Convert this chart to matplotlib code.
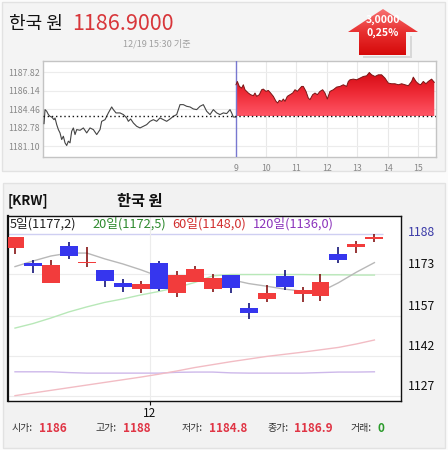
import numpy as np
import matplotlib
matplotlib.use('Agg')
from matplotlib import pyplot as plt
from matplotlib.patches import Rectangle, Polygon
from matplotlib.colors import LinearSegmentedColormap
import matplotlib.transforms as mtransforms

plt.rcParams['font.family'] = ['Noto Sans CJK KR', 'DejaVu Sans']

# ---- intraday (top chart) ----
prev_close = 1183.82
prev_t = [2.694, 2.727, 2.782, 2.837, 2.891, 2.946, 3.023, 3.056, 3.111, 3.166, 3.220, 3.275, 3.330,
          3.385, 3.440, 3.494, 3.549, 3.604, 3.659, 3.714, 3.769, 3.878, 3.988, 4.098, 4.207, 4.317,
          4.427, 4.536, 4.591, 4.701, 4.810, 4.920, 4.975, 5.062, 5.194, 5.304, 5.413, 5.468, 5.545,
          5.633, 5.742, 5.852, 5.962, 6.071, 6.181, 6.291, 6.400, 6.510, 6.620, 6.729, 6.839, 6.948,
          7.058, 7.168, 7.277, 7.387, 7.497, 7.606, 7.716, 7.826, 7.935, 8.045, 8.155, 8.264, 8.374,
          8.484, 8.593, 8.703, 8.813, 8.867, 8.922, 8.999]
prev_v = [1183.16, 1184.43, 1184.28, 1183.98, 1183.82, 1183.76, 1183.52, 1183.67, 1183.07, 1182.62,
          1182.32, 1181.72, 1182.02, 1181.42, 1181.18, 1181.57, 1181.42, 1182.47, 1182.77, 1182.17,
          1182.62, 1182.56, 1182.77, 1182.32, 1182.77, 1182.62, 1182.17, 1182.62, 1183.37, 1183.52,
          1184.13, 1184.67, 1184.43, 1184.13, 1184.13, 1183.98, 1183.68, 1183.37, 1183.58, 1183.22,
          1182.92, 1182.77, 1182.92, 1183.07, 1183.37, 1183.52, 1183.37, 1183.68, 1183.52, 1183.37,
          1183.58, 1183.82, 1183.98, 1184.88, 1184.88, 1184.73, 1184.67, 1184.49, 1184.43, 1184.73,
          1184.88, 1184.28, 1183.98, 1184.43, 1184.13, 1183.98, 1184.13, 1184.07, 1184.43, 1184.13,
          1183.76, 1183.76]
today_t = [9.010, 9.054, 9.120, 9.196, 9.251, 9.306, 9.361, 9.416, 9.492, 9.580, 9.635, 9.690, 9.777,
           9.854, 9.909, 9.997, 10.073, 10.150, 10.238, 10.326, 10.380, 10.435, 10.512, 10.567, 10.622,
           10.698, 10.786, 10.874, 10.951, 11.027, 11.093, 11.170, 11.225, 11.313, 11.389, 11.444,
           11.532, 11.609, 11.685, 11.773, 11.861, 11.938, 12.014, 12.102, 12.212, 12.321, 12.431,
           12.541, 12.650, 12.705, 12.760, 12.869, 12.979, 13.089, 13.198, 13.308, 13.396, 13.472,
           13.582, 13.692, 13.801, 13.911, 14.021, 14.130, 14.240, 14.350, 14.460, 14.569, 14.679,
           14.788, 14.843, 14.931, 15.008, 15.085, 15.172, 15.260, 15.336, 15.446, 15.534]
today_v = [1186.68, 1186.98, 1186.53, 1186.38, 1186.68, 1186.23, 1186.08, 1185.93, 1185.78, 1185.69,
           1185.93, 1185.63, 1185.78, 1186.23, 1186.29, 1186.08, 1186.17, 1185.93, 1185.63, 1185.18,
           1185.03, 1185.27, 1185.18, 1185.39, 1185.18, 1185.63, 1185.78, 1185.93, 1186.23, 1186.08,
           1186.29, 1186.53, 1186.53, 1186.08, 1185.48, 1185.33, 1185.78, 1185.93, 1185.78, 1186.08,
           1186.23, 1185.93, 1185.39, 1186.08, 1186.23, 1186.47, 1186.53, 1186.68, 1186.53, 1186.98,
           1187.13, 1187.19, 1187.13, 1187.28, 1187.43, 1187.49, 1187.79, 1187.58, 1187.43, 1187.58,
           1187.58, 1187.28, 1186.83, 1186.77, 1186.77, 1186.68, 1186.77, 1186.68, 1186.59, 1186.98,
           1187.37, 1186.98, 1186.77, 1186.68, 1186.98, 1186.77, 1186.98, 1187.19, 1186.90]
top_yticks = [1181.10, 1182.78, 1184.46, 1186.14, 1187.82]
top_xticks = [9, 10, 11, 12, 13, 14, 15]

# ---- daily candles (bottom chart) ----
opens = [1182.8, 1177.2, 1169.6, 1183.6, 1176.9, 1174.4, 1169.4, 1167.2, 1177.2, 1165.9, 1170.0,
         1167.2, 1172.5, 1160.2, 1163.4, 1172.2, 1165.4, 1164.6, 1180.5, 1183.2, 1186.0]
closes = [1187.0, 1176.0, 1176.3, 1179.8, 1177.5, 1170.4, 1168.1, 1169.1, 1167.2, 1172.4, 1174.8,
          1171.3, 1167.7, 1158.3, 1165.9, 1168.1, 1166.9, 1169.9, 1178.2, 1184.2, 1186.9]
highs = [1187.0, 1178.2, 1178.2, 1184.9, 1183.0, 1174.4, 1171.0, 1170.4, 1177.9, 1174.0, 1176.0,
         1172.8, 1172.5, 1162.1, 1168.8, 1174.4, 1168.1, 1172.8, 1183.0, 1185.4, 1188.0]
lows = [1180.3, 1173.2, 1169.6, 1178.6, 1175.4, 1168.1, 1166.2, 1165.6, 1166.6, 1164.3, 1170.0,
        1166.2, 1165.9, 1155.9, 1162.5, 1166.9, 1162.5, 1162.8, 1177.2, 1180.9, 1184.8]
ma5 = [1175.7, 1177.8, 1179.7, 1180.8, 1180.8, 1178.6, 1176.7, 1174.5, 1172.0, 1170.6, 1170.6,
       1171.0, 1170.8, 1169.3, 1168.3, 1167.2, 1166.4, 1166.2, 1169.6, 1173.6, 1177.2]
ma20 = [1152.5, 1154.2, 1156.3, 1158.6, 1160.5, 1162.2, 1163.5, 1165.0, 1166.3, 1167.8, 1169.7,
        1172.2, 1172.7, 1172.7, 1172.7, 1172.7, 1172.7, 1172.6, 1172.6, 1172.5, 1172.5]
ma60 = [1127.0, 1128.0, 1129.0, 1130.0, 1131.0, 1132.0, 1133.0, 1134.0, 1135.1, 1136.3, 1137.6,
        1138.7, 1139.8, 1140.8, 1141.8, 1142.6, 1143.4, 1144.3, 1145.2, 1146.5, 1148.0]
ma120 = [1136.0, 1136.0, 1136.0, 1135.7, 1135.5, 1135.5, 1135.5, 1135.5, 1135.5, 1135.8, 1135.9,
         1135.9, 1135.6, 1135.5, 1135.5, 1135.5, 1135.5, 1135.7, 1135.9, 1135.9, 1136.0]
bottom_ticks = [1188, 1173, 1157, 1142, 1127]
ma_labels = ['5일(1177,2)', '20일(1172,5)', '60일(1148,0)', '120일(1136,0)']

fig = plt.figure(figsize=(4.48, 4.5), dpi=100)
fig.patch.set_facecolor('#fbfbfb')

# background panels, pixel coords
bg = fig.add_axes([0, 0, 1, 1], zorder=-5)
bg.set_xlim(0, 448)
bg.set_ylim(450, 0)
bg.axis('off')
bg.add_patch(Rectangle((2, 2), 443, 169, facecolor='#f4f4f4', edgecolor='#e2e2e2', lw=1, zorder=1))
bg.add_patch(Rectangle((3, 183), 442, 265, facecolor='#f2f2f2', edgecolor='#e2e2e2', lw=1, zorder=1))

# red arrow with gradient
bg.add_patch(Polygon([(410, 36), (412, 36), (412, 58), (363, 58), (363, 56), (410, 56)],
                     closed=True, facecolor='#d8d8d8', edgecolor='none', zorder=2))
arrow = Polygon([(348, 32), (383, 9), (418, 32), (406, 32), (406, 55), (359, 55), (359, 32)],
                closed=True, facecolor='none', edgecolor='none', zorder=2)
bg.add_patch(arrow)
arrow_cmap = LinearSegmentedColormap.from_list('arr', ['#f77070', '#e83030', '#d60a0a'])
grad = np.linspace(0, 1, 64).reshape(-1, 1)
im = bg.imshow(grad, cmap=arrow_cmap, extent=[348, 418, 55, 9], origin='upper',
               aspect='auto', zorder=3)
im.set_clip_path(arrow)
bg.set_xlim(0, 448)
bg.set_ylim(450, 0)

# ---- top chart ----
ax1 = fig.add_axes([43.3 / 448, 1 - 157 / 450, (436 - 43.3) / 448, 96 / 450])
ax1.set_facecolor('white')
for t in top_xticks[1:]:
    ax1.axvline(t, color='#e8e8e8', lw=0.8, zorder=0)
for v in top_yticks:
    ax1.axhline(v, color='#ececec', lw=0.8, zorder=0)
ax1.axvline(9, color='#7878d0', lw=1.0, zorder=3)
ax1.plot(prev_t, prev_v, color='#444444', lw=0.8, zorder=4)

fill = ax1.fill_between(today_t, today_v, prev_close, facecolor='none', edgecolor='none')
red_cmap = LinearSegmentedColormap.from_list('red', ['#ff5565', '#ee2a35', '#d20710'])
im2 = ax1.imshow(grad, cmap=red_cmap, extent=[9, 15.6, prev_close, 1188.0],
                 origin='lower', aspect='auto', zorder=2)
im2.set_clip_path(fill.get_paths()[0], transform=ax1.transData)
ax1.plot(today_t, today_v, color='#7a1515', lw=0.7, zorder=3)
ax1.axhline(prev_close, color='#111111', lw=1.0, ls=(0, (1, 2)), zorder=5)

ax1.set_xlim(2.67, 15.59)
ax1.set_ylim(1180.14, 1188.83)
ax1.set_xticks(top_xticks)
ax1.set_xticklabels([str(t) for t in top_xticks])
ax1.set_yticks(top_yticks)
ax1.set_yticklabels(['%.2f' % v for v in top_yticks])
ax1.tick_params(length=0, labelsize=6.3, colors='#888888')
ax1.tick_params(axis='x', pad=5)
ax1.tick_params(axis='y', pad=2.5)
for s in ax1.spines.values():
    s.set_color('#c4c4c4')
    s.set_linewidth(1.0)

# ---- bottom chart ----
ax2 = fig.add_axes([8 / 448, 1 - 401 / 450, 393 / 448, 185 / 450])
ax2.set_facecolor('white')
x = np.arange(len(opens))
for v in bottom_ticks[1:]:
    ax2.axhline(v, color='#ececec', lw=0.8, zorder=0)
ax2.hlines(bottom_ticks[0], -0.39, 20.5, color='#cfcff2', lw=1.0, zorder=0)
ax2.axvline(7.5, color='#ececec', lw=0.8, zorder=0)

ax2.plot(x, ma120, color='#cdb8ea', lw=1.0, zorder=1)
ax2.plot(x, ma60, color='#f2bcc4', lw=1.0, zorder=1)
ax2.plot(x, ma20, color='#b8e8b8', lw=1.0, zorder=1)
ax2.plot(x, ma5, color='#b8b8b8', lw=1.0, zorder=1)

for i in range(len(opens)):
    o, c = opens[i], closes[i]
    up = c >= o
    body = '#f23c3c' if up else '#3636ee'
    wick = '#7a0000' if up else '#00006e'
    ax2.vlines(i, lows[i], highs[i], color=wick, lw=1.1, zorder=2)
    ax2.bar(i, abs(c - o), bottom=min(o, c), width=1.0, color=body, zorder=3)

ax2.set_xlim(-0.39, 21.48)
ax2.set_ylim(1124.98, 1194.79)
ax2.set_yticks([])
ax2.set_xticks([7.5])
ax2.set_xticklabels(['12'])
ax2.tick_params(axis='x', length=3, width=0.8, labelsize=8.5, pad=1, colors='#111111')
for s in ax2.spines.values():
    s.set_color('#111111')
    s.set_linewidth(1.0)
ax2.spines['left'].set_linewidth(1.6)

tr = mtransforms.blended_transform_factory(ax2.transAxes, ax2.transData)
for k, v in enumerate(bottom_ticks):
    if k == 0:
        ax2.text(1.017, v + 0.4, str(v), transform=tr, va='center', ha='left',
                 fontsize=8.8, color='#3c3ca8')
    else:
        ax2.annotate(str(v), (1.017, v), xycoords=tr, xytext=(0, 2), textcoords='offset points',
                     va='bottom', ha='left', fontsize=8.8, color='#111111')

# ---- texts on top, pixel coords ----
fg = fig.add_axes([0, 0, 1, 1], zorder=10)
fg.set_xlim(0, 448)
fg.set_ylim(450, 0)
fg.axis('off')
fg.patch.set_alpha(0)

fg.text(9, 24, '한국 원', fontsize=13, color='#111111', va='center', ha='left')
fg.text(72, 24, '1186.9000', fontsize=15.5, color='#d8363a', va='center', ha='left')
fg.text(123, 44, '12/19 15:30 기준', fontsize=6.6, color='#a0a0a0', va='center', ha='left')
fg.text(383, 19.5, '3,0000', fontsize=7.6, color='white', va='center', ha='center', fontweight='bold')
fg.text(383, 32.5, '0,25%', fontsize=7.6, color='white', va='center', ha='center', fontweight='bold')

fg.text(8, 201, '[KRW]', fontsize=9.5, color='#111111', va='center', ha='left', fontweight='bold')
fg.text(117, 201, '한국 원', fontsize=11, color='#111111', va='center', ha='left', fontweight='bold')

ma_colors = ['#222222', '#2e8a2e', '#d23030', '#8c34bc']
ma_x = [10, 92, 172, 253]
for lbl, col, px in zip(ma_labels, ma_colors, ma_x):
    fg.text(px, 224, lbl, fontsize=9.2, color=col, va='center', ha='left')

stats_lbl = ['시가:', '고가:', '저가:', '종가:', '거래:']
stats_val = ['1186', '1188', '1184.8', '1186.9', '0']
stats_x = [12, 96, 182, 267, 351]
stats_col = ['#e03545', '#e03545', '#e03545', '#e03545', '#2a9a2a']
for lb, vl, px, col in zip(stats_lbl, stats_val, stats_x, stats_col):
    fg.text(px, 428, lb, fontsize=7.2, color='#333333', va='center', ha='left')
    fg.text(px + 27, 428, vl, fontsize=8.4, color=col, va='center', ha='left', fontweight='bold')

fig.savefig('out.png', dpi=100, facecolor=fig.get_facecolor())
